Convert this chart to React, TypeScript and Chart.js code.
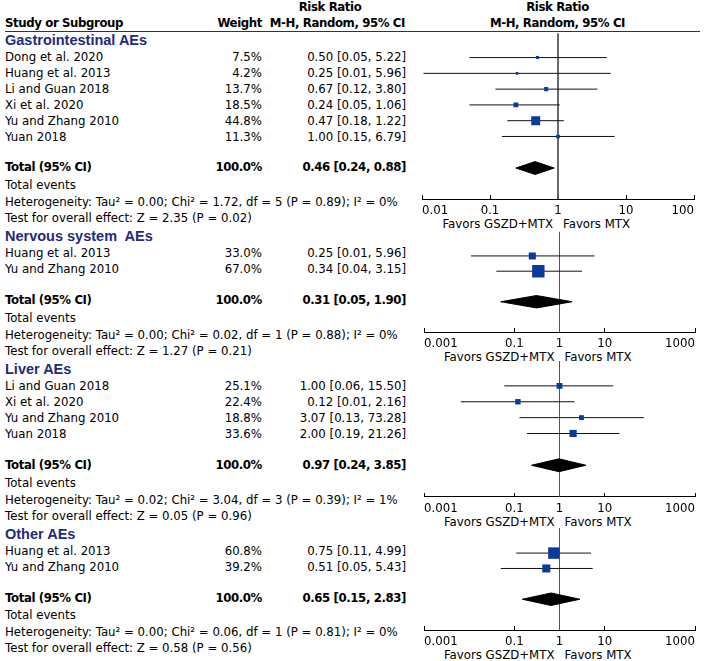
import React, { useEffect, useRef } from "react";
import { Chart, registerables } from "chart.js";
Chart.register(...registerables);

const FONT = '"DejaVu Sans", Verdana, sans-serif';
const TITLE_FONT = '"Liberation Sans", Arial, sans-serif';
const BLUE = "#0b3a9e";
const NAVY = "#1f2b7b";
const FS = 11.75;

// ---------- data ----------
const groupTitles = ["Gastrointestinal AEs", "Nervous system  AEs", "Liver AEs", "Other AEs"];

const giStudies = ["Dong et al. 2020", "Huang et al. 2013", "Li and Guan 2018", "Xi et al. 2020", "Yu and Zhang 2010", "Yuan 2018"];
const giWeights = [7.5, 4.2, 13.7, 18.5, 44.8, 11.3];
const giRR = [0.5, 0.25, 0.67, 0.24, 0.47, 1.0];
const giLo = [0.05, 0.0105, 0.12, 0.05, 0.18, 0.15];
const giHi = [5.22, 5.96, 3.8, 1.06, 1.22, 6.79];
const giTotal = [0.46, 0.24, 0.88];
const giHet = "Heterogeneity: Tau² = 0.00; Chi² = 1.72, df = 5 (P = 0.89); I² = 0%";
const giTest = "Test for overall effect: Z = 2.35 (P = 0.02)";

const nsStudies = ["Huang et al. 2013", "Yu and Zhang 2010"];
const nsWeights = [33.0, 67.0];
const nsRR = [0.25, 0.34];
const nsLo = [0.011, 0.04];
const nsHi = [5.96, 3.15];
const nsTotal = [0.31, 0.05, 1.9];
const nsHet = "Heterogeneity: Tau² = 0.00; Chi² = 0.02, df = 1 (P = 0.88); I² = 0%";
const nsTest = "Test for overall effect: Z = 1.27 (P = 0.21)";

const lvStudies = ["Li and Guan 2018", "Xi et al. 2020", "Yu and Zhang 2010", "Yuan 2018"];
const lvWeights = [25.1, 22.4, 18.8, 33.6];
const lvRR = [1.0, 0.12, 3.07, 2.0];
const lvLo = [0.06, 0.0065, 0.13, 0.19];
const lvHi = [15.5, 2.16, 73.28, 21.26];
const lvTotal = [0.97, 0.24, 3.85];
const lvHet = "Heterogeneity: Tau² = 0.02; Chi² = 3.04, df = 3 (P = 0.39); I² = 1%";
const lvTest = "Test for overall effect: Z = 0.05 (P = 0.96)";

const otStudies = ["Huang et al. 2013", "Yu and Zhang 2010"];
const otWeights = [60.8, 39.2];
const otRR = [0.75, 0.51];
const otLo = [0.11, 0.05];
const otHi = [4.99, 5.43];
const otTotal = [0.65, 0.15, 2.83];
const otHet = "Heterogeneity: Tau² = 0.00; Chi² = 0.06, df = 1 (P = 0.81); I² = 0%";
const otTest = "Test for overall effect: Z = 0.58 (P = 0.56)";

const ticksA = [0.01, 0.1, 1, 10, 100];
const tickLabelsA = ["0.01", "0.1", "1", "10", "100"];
const ticksB = [0.001, 0.1, 1, 10, 1000];
const tickLabelsB = ["0.001", "0.1", "1", "10", "1000"];

const favorsLeft = "Favors GSZD+MTX";
const favorsRight = "Favors MTX";

// ---------- layout ----------
type Panel = {
  title: string;
  studies: string[];
  weights: number[];
  rr: number[];
  lo: number[];
  hi: number[];
  total: number[];
  het: string;
  test: string;
  ticks: number[];
  tickLabels: string[];
  min: number;
  max: number;
  L: number; R: number; T: number; B: number;
  titleY: number; row0: number; totalY: number; teY: number; hetY: number; testY: number;
};

const panels: Panel[] = [
  { title: groupTitles[0], studies: giStudies, weights: giWeights, rr: giRR, lo: giLo, hi: giHi, total: giTotal, het: giHet, test: giTest,
    ticks: ticksA, tickLabels: tickLabelsA, min: 0.01, max: 100,
    L: 417, R: 699, T: 31, B: 199, titleY: 40.5, row0: 55.6, totalY: 167, teY: 185, hetY: 201.5, testY: 217.5 },
  { title: groupTitles[1], studies: nsStudies, weights: nsWeights, rr: nsRR, lo: nsLo, hi: nsHi, total: nsTotal, het: nsHet, test: nsTest,
    ticks: ticksB, tickLabels: tickLabelsB, min: 0.001, max: 1000,
    L: 419, R: 700, T: 227, B: 332, titleY: 236.7, row0: 252.3, totalY: 300, teY: 318, hetY: 334.5, testY: 350.5 },
  { title: groupTitles[2], studies: lvStudies, weights: lvWeights, rr: lvRR, lo: lvLo, hi: lvHi, total: lvTotal, het: lvHet, test: lvTest,
    ticks: ticksB, tickLabels: tickLabelsB, min: 0.001, max: 1000,
    L: 419, R: 700, T: 360, B: 497, titleY: 369.3, row0: 385, totalY: 465, teY: 483, hetY: 499.5, testY: 515.8 },
  { title: groupTitles[3], studies: otStudies, weights: otWeights, rr: otRR, lo: otLo, hi: otHi, total: otTotal, het: otHet, test: otTest,
    ticks: ticksB, tickLabels: tickLabelsB, min: 0.001, max: 1000,
    L: 419, R: 700, T: 524, B: 630, titleY: 534.3, row0: 550, totalY: 597.5, teY: 615, hetY: 631.7, testY: 648.3 },
];

const PITCH = 16;
const AXIS_H = 40;
const PAD = 4;
const WEIGHT_X = 262;
const CI_X = 406;

const fmtCI = (r: number, l: number, h: number) => `${r.toFixed(2)} [${l.toFixed(2)}, ${h.toFixed(2)}]`;

type TProps = { x: number; y: number; align?: "left" | "right" | "center"; bold?: boolean; children: React.ReactNode };
function T({ x, y, align = "left", bold, children }: TProps) {
  const style: React.CSSProperties = {
    position: "absolute",
    top: y - 7,
    height: 14,
    lineHeight: "14px",
    fontSize: `${FS}px`,
    fontFamily: FONT,
    fontWeight: bold ? "bold" : "normal",
    letterSpacing: bold ? "-0.4px" : "0px",
    whiteSpace: "pre",
    color: "#000",
  };
  if (align === "left") style.left = x;
  else if (align === "right") { style.left = x - 400; style.width = 400; style.textAlign = "right"; }
  else { style.left = x - 200; style.width = 400; style.textAlign = "center"; }
  return <div style={style}>{children}</div>;
}

function ForestPanel({ p }: { p: Panel }) {
  const ref = useRef<HTMLCanvasElement>(null);
  const w = p.R - p.L + 2 * PAD;
  const h = p.B - p.T + PAD + AXIS_H;
  useEffect(() => {
    const n = p.studies.length;
    const yMin = (p.T - p.row0) / PITCH;
    const yMax = (p.B - p.row0) / PITCH;
    const ty = n + 1;
    const dh = 6.5 / PITCH;
    const datasets: any[] = [];
    datasets.push({
      data: p.rr.map((v, i) => ({ x: v, y: i })),
      pointStyle: "rect",
      pointRadius: p.weights.map((wt) => (1.9 + 0.157 * wt) / Math.SQRT2),
      backgroundColor: BLUE,
      borderColor: BLUE,
      borderWidth: 0,
      showLine: false,
      order: 0,
    });
    p.lo.forEach((l, i) => {
      datasets.push({
        data: [{ x: l, y: i }, { x: p.hi[i], y: i }],
        showLine: true,
        pointRadius: 0,
        borderColor: "#111",
        borderWidth: 1,
        order: 2,
      });
    });
    const [tr, tl, th] = p.total;
    datasets.push({
      data: [
        { x: tl, y: ty }, { x: tr, y: ty - dh }, { x: th, y: ty }, { x: tr, y: ty + dh }, { x: tl, y: ty },
      ],
      showLine: true,
      fill: "shape",
      backgroundColor: "#000",
      borderColor: "#000",
      borderWidth: 1,
      pointRadius: 0,
      order: 1,
    });
    datasets.push({
      data: [{ x: 1, y: yMin }, { x: 1, y: yMax }],
      showLine: true,
      pointRadius: 0,
      borderColor: "#555",
      borderWidth: 1,
      order: 3,
    });
    const chart = new Chart(ref.current!, {
      type: "scatter",
      data: { datasets },
      options: {
        animation: false,
        responsive: false,
        events: [],
        layout: { padding: { left: PAD, right: PAD, top: PAD, bottom: 0 } },
        plugins: { legend: { display: false }, tooltip: { enabled: false } },
        scales: {
          x: {
            type: "logarithmic",
            position: "bottom",
            min: p.min,
            max: p.max,
            afterBuildTicks: (s: any) => { s.ticks = p.ticks.map((v) => ({ value: v })); },
            afterFit: (s: any) => { s.height = AXIS_H; },
            ticks: {
              align: "inner",
              autoSkip: false,
              maxRotation: 0,
              minRotation: 0,
              color: "#000",
              padding: 9,
              font: { family: FONT, size: FS },
              callback: (_v: any, i: number) => p.tickLabels[i],
            },
            grid: { display: true, drawOnChartArea: false, drawTicks: true, tickLength: -4, color: "#000", lineWidth: 1 },
            border: { display: true, color: "#000", width: 1 },
          },
          y: { type: "linear", display: false, reverse: true, min: yMin, max: yMax },
        },
      } as any,
    });
    return () => chart.destroy();
  }, []);
  return (
    <canvas
      ref={ref}
      width={w}
      height={h}
      style={{ position: "absolute", left: p.L - PAD, top: p.T - PAD, width: w, height: h }}
    />
  );
}

export default function App() {
  const items: React.ReactNode[] = [];
  panels.forEach((p, k) => {
    items.push(
      <div key={`t${k}`} style={{ position: "absolute", left: 5, top: p.titleY - 8.3, height: 17, lineHeight: "17px", fontSize: "14.5px", fontFamily: TITLE_FONT, fontWeight: "bold", color: NAVY, whiteSpace: "pre" }}>
        {p.title}
      </div>
    );
    p.studies.forEach((s, i) => {
      const y = p.row0 + 1 + PITCH * i;
      items.push(<T key={`s${k}-${i}`} x={5} y={y}>{s}</T>);
      items.push(<T key={`w${k}-${i}`} x={WEIGHT_X} y={y} align="right">{p.weights[i].toFixed(1) + "%"}</T>);
      items.push(<T key={`c${k}-${i}`} x={CI_X} y={y} align="right">{fmtCI(p.rr[i], p.lo[i], p.hi[i])}</T>);
    });
    items.push(<T key={`tt${k}`} x={5} y={p.totalY} bold>Total (95% CI)</T>);
    items.push(<T key={`tw${k}`} x={WEIGHT_X} y={p.totalY} align="right" bold>100.0%</T>);
    items.push(<T key={`tc${k}`} x={CI_X} y={p.totalY} align="right" bold>{fmtCI(p.total[0], p.total[1], p.total[2])}</T>);
    items.push(<T key={`te${k}`} x={5} y={p.teY}>Total events</T>);
    items.push(<T key={`h${k}`} x={5} y={p.hetY}>{p.het}</T>);
    items.push(<T key={`o${k}`} x={5} y={p.testY}>{p.test}</T>);
    const x1 = (p.L + p.R) / 2;
    items.push(<T key={`fl${k}`} x={x1 - 5} y={p.B + 24.5} align="right">{favorsLeft}</T>);
    items.push(<T key={`fr${k}`} x={x1 + 5} y={p.B + 24.5}>{favorsRight}</T>);
    items.push(<ForestPanel key={`p${k}`} p={p} />);
  });
  return (
    <div style={{ position: "absolute", left: 0, top: 0, width: 704, height: 661, overflow: "hidden", background: "#fff" }}>
      <T x={330} y={7} align="center" bold>Risk Ratio</T>
      <T x={5} y={23.3} bold>Study or Subgroup</T>
      <T x={WEIGHT_X} y={23.3} align="right" bold>Weight</T>
      <T x={CI_X - 1} y={23.3} align="right" bold>M-H, Random, 95% CI</T>
      <T x={557.5} y={7} align="center" bold>Risk Ratio</T>
      <T x={557.5} y={23.3} align="center" bold>M-H, Random, 95% CI</T>
      <div style={{ position: "absolute", left: 5, top: 30.5, width: 695, height: 1, background: "#333" }} />
      {items}
    </div>
  );
}
